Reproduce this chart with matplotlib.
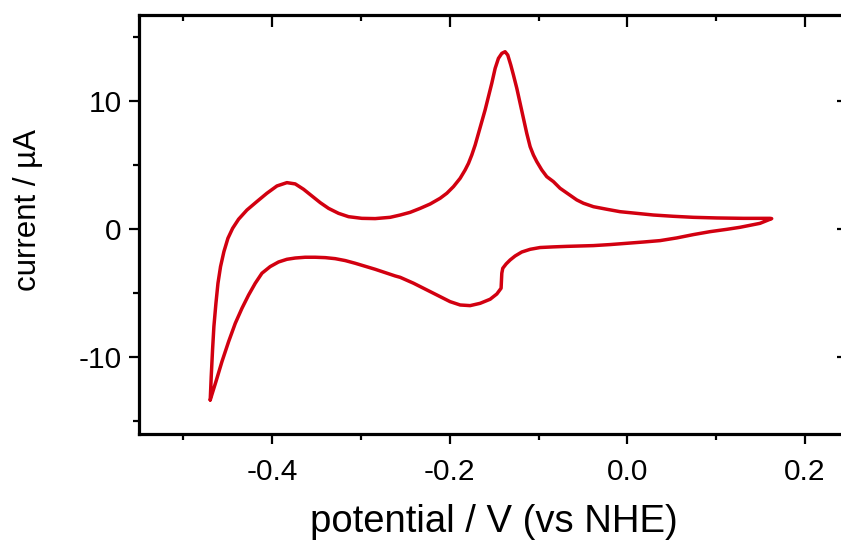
import matplotlib
matplotlib.use('Agg')
import matplotlib.pyplot as plt
from matplotlib.ticker import MultipleLocator

plt.rcParams['font.family'] = ['Liberation Sans', 'DejaVu Sans']
plt.rcParams['axes.unicode_minus'] = False

# anodic sweep (from -0.47 V up to 0.16 V)
v_fwd = [-0.4698, -0.4687, -0.4672, -0.4657, -0.4634, -0.4611, -0.4582, -0.4544, -0.4499, -0.4446,
         -0.4379, -0.4285, -0.4173, -0.4060, -0.3947, -0.3835, -0.3741, -0.3647, -0.3554, -0.3460,
         -0.3366, -0.3253, -0.3141, -0.2991, -0.2841, -0.2672, -0.2559, -0.2447, -0.2334, -0.2222,
         -0.2109, -0.2034, -0.1959, -0.1884, -0.1828, -0.1790, -0.1753, -0.1715, -0.1678, -0.1640,
         -0.1603, -0.1565, -0.1528, -0.1490, -0.1453, -0.1415, -0.1378, -0.1348, -0.1314, -0.1284,
         -0.1246, -0.1209, -0.1171, -0.1134, -0.1096, -0.1059, -0.1021, -0.0965, -0.0909, -0.0834,
         -0.0759, -0.0665, -0.0571, -0.0496, -0.0383, -0.0233, -0.0083, 0.0104, 0.0292, 0.0517,
         0.0742, 0.1005, 0.1305, 0.1605, 0.1624]
i_fwd = [-13.36, -11.54, -9.45, -7.63, -5.81, -4.24, -2.94, -1.77, -0.73, 0.05,
         0.76, 1.48, 2.14, 2.79, 3.36, 3.62, 3.52, 3.10, 2.58, 2.06,
         1.61, 1.22, 0.96, 0.83, 0.81, 0.91, 1.09, 1.30, 1.61, 1.95,
         2.40, 2.79, 3.31, 3.96, 4.61, 5.13, 5.78, 6.56, 7.47, 8.39,
         9.30, 10.34, 11.38, 12.55, 13.33, 13.72, 13.85, 13.59, 12.81, 12.03,
         10.99, 9.82, 8.65, 7.47, 6.43, 5.78, 5.26, 4.61, 4.09, 3.70,
         3.18, 2.73, 2.27, 2.01, 1.74, 1.54, 1.35, 1.22, 1.09, 0.99,
         0.91, 0.86, 0.83, 0.83, 0.81]

# cathodic sweep (back down to -0.47 V)
v_rev = [0.1567, 0.1492, 0.1380, 0.1267, 0.1117, 0.0930, 0.0742, 0.0555, 0.0367, 0.0179,
         -0.0008, -0.0196, -0.0384, -0.0533, -0.0684, -0.0834, -0.0984, -0.1096, -0.1190, -0.1265,
         -0.1321, -0.1366, -0.1404, -0.1415, -0.1423, -0.1471, -0.1546, -0.1659, -0.1772, -0.1884,
         -0.1997, -0.2109, -0.2259, -0.2409, -0.2559, -0.2616, -0.2728, -0.2841, -0.2953, -0.3066,
         -0.3178, -0.3291, -0.3403, -0.3516, -0.3629, -0.3741, -0.3835, -0.3929, -0.4023, -0.4116,
         -0.4191, -0.4266, -0.4341, -0.4416, -0.4491, -0.4566, -0.4634, -0.4698]
i_rev = [0.65, 0.44, 0.29, 0.13, -0.03, -0.21, -0.44, -0.70, -0.91, -1.02,
         -1.12, -1.22, -1.30, -1.33, -1.36, -1.40, -1.45, -1.59, -1.80, -2.11,
         -2.42, -2.73, -3.07, -3.46, -4.63, -5.08, -5.49, -5.81, -5.99, -5.94,
         -5.68, -5.29, -4.77, -4.24, -3.78, -3.67, -3.41, -3.15, -2.92, -2.68,
         -2.47, -2.32, -2.24, -2.21, -2.21, -2.27, -2.37, -2.58, -2.94, -3.46,
         -4.24, -5.16, -6.20, -7.37, -8.80, -10.36, -11.93, -13.36]

fig = plt.figure(figsize=(8.41, 5.45), dpi=100)
ax = fig.add_axes([0.1653, 0.2037, 0.8448, 0.7688])

ax.plot(v_fwd + v_rev, i_fwd + i_rev, color='#d20010', lw=2.5,
        solid_joinstyle='round', solid_capstyle='round')

ax.set_xlim(-0.55, 0.25)
ax.set_ylim(-16.02, 16.72)
ax.xaxis.set_minor_locator(MultipleLocator(0.1))
ax.yaxis.set_major_locator(MultipleLocator(10))
ax.yaxis.set_minor_locator(MultipleLocator(5))
ax.set_xticks([-0.4, -0.2, 0.0, 0.2])
ax.set_xticklabels(['-0.4', '-0.2', '0.0', '0.2'])

for s in ax.spines.values():
    s.set_linewidth(2.3)

ax.tick_params(axis='both', which='major', labelsize=21.5, width=1.6, length=7.5)
ax.tick_params(axis='both', which='minor', width=1.6, length=4)
ax.tick_params(axis='x', which='both', direction='out', top=False, pad=10)
ax.tick_params(axis='y', which='both', direction='out', right=False, pad=5)

# inward ticks on the top and right edges
ax_top = ax.secondary_xaxis('top')
ax_top.xaxis.set_major_locator(MultipleLocator(0.2))
ax_top.xaxis.set_minor_locator(MultipleLocator(0.1))
ax_top.tick_params(which='major', direction='in', length=8.5, width=1.6, labeltop=False)
ax_top.tick_params(which='minor', direction='in', length=4.5, width=1.6)
ax_top.spines['top'].set_visible(False)
ax_right = ax.secondary_yaxis('right')
ax_right.yaxis.set_major_locator(MultipleLocator(10))
ax_right.yaxis.set_minor_locator(MultipleLocator(5))
ax_right.tick_params(which='major', direction='in', length=8.5, width=1.6, labelright=False)
ax_right.tick_params(which='minor', direction='in', length=4.5, width=1.6)
ax_right.spines['right'].set_visible(False)

ax.set_xlabel('potential / V (vs NHE)', fontsize=27.5, labelpad=13)
ax.set_ylabel('current / µA', fontsize=22.5)
ax.yaxis.set_label_coords(-0.135, 0.535)

fig.savefig('out.png', dpi=100, facecolor='white')
